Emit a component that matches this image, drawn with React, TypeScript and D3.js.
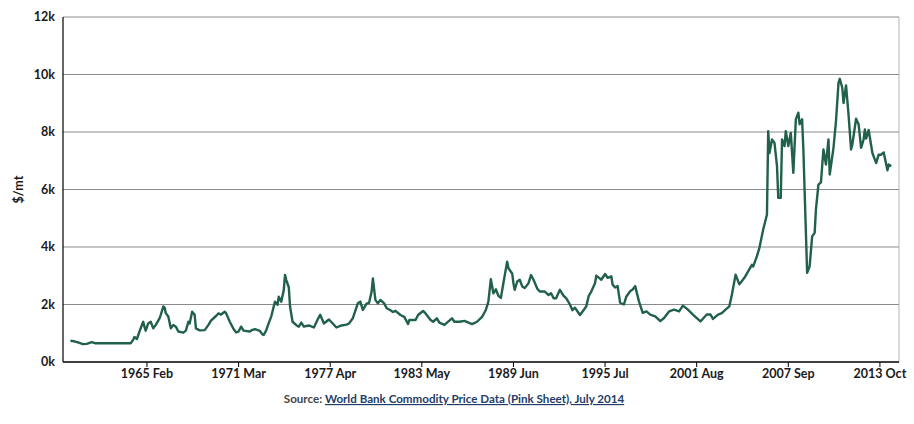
import { useEffect } from 'react'
import * as d3 from 'd3'

// monthly copper price, $/mt
const obsMonths = [
  '1960-01', '1960-04', '1960-07', '1960-11', '1961-02', '1961-06', '1961-09', '1962-01', '1964-01', '1964-03',
  '1964-04', '1964-06', '1964-08', '1964-11', '1964-12', '1965-01', '1965-03', '1965-05', '1965-07', '1965-09',
  '1965-12', '1966-01', '1966-03', '1966-04', '1966-05', '1966-07', '1966-09', '1966-11', '1967-01', '1967-03',
  '1967-07', '1967-09', '1967-11', '1967-12', '1968-02', '1968-04', '1968-05', '1968-08', '1968-12', '1969-03',
  '1969-05', '1969-09', '1969-11', '1970-01', '1970-04', '1970-05', '1970-08', '1970-11', '1971-01', '1971-03',
  '1971-05', '1971-07', '1971-12', '1972-02', '1972-04', '1972-08', '1972-10', '1972-11', '1973-01', '1973-03',
  '1973-05', '1973-08', '1973-10', '1973-11', '1974-01', '1974-03', '1974-04', '1974-05', '1974-07', '1974-08',
  '1974-10', '1975-01', '1975-03', '1975-05', '1975-07', '1975-11', '1976-03', '1976-06', '1976-08', '1976-11',
  '1977-03', '1977-09', '1978-01', '1978-05', '1978-07', '1978-10', '1979-02', '1979-04', '1979-06', '1979-09',
  '1979-11', '1980-01', '1980-02', '1980-04', '1980-06', '1980-08', '1980-11', '1981-01', '1981-04', '1981-06',
  '1981-08', '1981-12', '1982-03', '1982-06', '1982-07', '1982-12', '1983-02', '1983-06', '1983-08', '1983-12',
  '1984-02', '1984-05', '1984-07', '1984-11', '1985-05', '1985-07', '1985-11', '1986-03', '1986-09', '1987-01',
  '1987-05', '1987-08', '1987-10', '1987-12', '1988-02', '1988-04', '1988-06', '1988-08', '1988-10', '1989-01',
  '1989-02', '1989-03', '1989-05', '1989-06', '1989-07', '1989-09', '1989-11', '1990-01', '1990-03', '1990-06',
  '1990-08', '1990-10', '1991-01', '1991-03', '1991-07', '1991-10', '1991-12', '1992-02', '1992-04', '1992-07',
  '1992-10', '1992-12', '1993-03', '1993-05', '1993-07', '1993-11', '1994-02', '1994-04', '1994-06', '1994-08',
  '1994-11', '1994-12', '1995-03', '1995-04', '1995-07', '1995-09', '1995-12', '1996-01', '1996-03', '1996-05',
  '1996-07', '1996-10', '1996-12', '1997-03', '1997-05', '1997-07', '1997-10', '1998-01', '1998-04', '1998-07',
  '1998-11', '1999-03', '1999-06', '1999-10', '2000-02', '2000-06', '2000-09', '2001-01', '2001-05', '2001-11',
  '2002-04', '2002-07', '2002-09', '2003-01', '2003-04', '2003-07', '2003-10', '2003-12', '2004-03', '2004-06',
  '2004-10', '2005-01', '2005-04', '2005-05', '2005-08', '2005-10', '2006-01', '2006-04', '2006-05', '2006-06',
  '2006-08', '2006-10', '2006-12', '2007-01', '2007-03', '2007-04', '2007-06', '2007-07', '2007-09', '2007-11',
  '2008-01', '2008-03', '2008-05', '2008-06', '2008-08', '2008-09', '2008-12', '2009-02', '2009-04', '2009-06',
  '2009-07', '2009-09', '2009-11', '2010-01', '2010-03', '2010-05', '2010-06', '2010-09', '2010-11', '2011-01',
  '2011-02', '2011-04', '2011-05', '2011-07', '2011-09', '2011-11', '2011-12', '2012-03', '2012-05', '2012-07',
  '2012-09', '2012-10', '2012-11', '2013-01', '2013-04', '2013-07', '2013-09', '2013-11', '2014-01', '2014-04',
  '2014-05', '2014-07'
]

const copperPrices = [
  740, 720, 680, 620, 630, 690, 650, 650, 650, 770,
  870, 800, 1060, 1400, 1230, 1090, 1340, 1400, 1170, 1290,
  1520, 1640, 1930, 1900, 1700, 1580, 1170, 1290, 1230, 1060,
  1020, 1090, 1400, 1340, 1750, 1640, 1170, 1100, 1110, 1290,
  1440, 1600, 1690, 1650, 1750, 1700, 1400, 1150, 1030, 1060,
  1230, 1090, 1060, 1120, 1140, 1080, 960, 940, 1100, 1350,
  1580, 2100, 1990, 2270, 2100, 2500, 3030, 2850, 2600, 1930,
  1400, 1280, 1230, 1370, 1230, 1270, 1200, 1480, 1640, 1340,
  1480, 1200, 1270, 1300, 1340, 1520, 2040, 2100, 1810, 2030,
  2060, 2450, 2910, 2160, 2040, 2160, 2040, 1870, 1800, 1740,
  1780, 1635, 1570, 1320, 1460, 1460, 1635, 1775, 1690, 1460,
  1400, 1520, 1370, 1290, 1520, 1400, 1400, 1430, 1320, 1400,
  1570, 1810, 2090, 2880, 2390, 2530, 2300, 2230, 2750, 3490,
  3260, 3200, 3080, 2740, 2510, 2800, 2860, 2630, 2570, 2740,
  3025, 2860, 2550, 2450, 2450, 2330, 2390, 2220, 2220, 2510,
  2300, 2220, 2000, 1800, 1890, 1635, 1810, 1930, 2300, 2450,
  2740, 3000, 2900, 2860, 3060, 2930, 2980, 2690, 2590, 2640,
  2060, 2000, 2280, 2460, 2520, 2640, 2110, 1710, 1760, 1650,
  1590, 1420, 1530, 1760, 1820, 1760, 1960, 1820, 1650, 1410,
  1650, 1650, 1500, 1650, 1700, 1820, 1935, 2330, 3040, 2700,
  2930, 3150, 3380, 3320, 3680, 3970, 4610, 5130, 8030, 7270,
  7740, 7620, 6810, 5710, 5710, 7740, 7510, 8030, 7510, 7970,
  6580, 8440, 8670, 8270, 8440, 7390, 3100, 3330, 4370, 4490,
  5300, 6170, 6250, 7390, 6870, 7740, 6520, 7450, 8380, 9710,
  9850, 9540, 9010, 9620, 8600, 7390, 7560, 8460, 8270, 7450,
  7740, 8090, 7770, 8070, 7270, 6920, 7210, 7210, 7290, 6670,
  6870, 6810
]

const yTickValues = [0, 2000, 4000, 6000, 8000, 10000, 12000]
const xTickLabels = ['1965 Feb', '1971 Mar', '1977 Apr', '1983 May', '1989 Jun', '1995 Jul', '2001 Aug', '2007 Sep', '2013 Oct']

const monthNames = ['Jan', 'Feb', 'Mar', 'Apr', 'May', 'Jun', 'Jul', 'Aug', 'Sep', 'Oct', 'Nov', 'Dec']

// months since Jan 1960
const isoIndex = (s: string) => {
  const [y, m] = s.split('-').map(Number)
  return (y - 1960) * 12 + (m - 1)
}
const labelIndex = (s: string) => {
  const [y, mon] = s.split(' ')
  return (Number(y) - 1960) * 12 + monthNames.indexOf(mon)
}

const width = 914
const height = 424
const margin = { top: 17, right: 15, bottom: 62, left: 63 }
const lineColor = '#21604a'
const font = 'Lato, "Open Sans", sans-serif'

export default function App() {
  useEffect(() => {
    document.body.style.margin = '0'
  }, [])

  const data = obsMonths.map((m, i) => ({ idx: isoIndex(m), value: copperPrices[i] }))

  const x = d3.scaleLinear()
    .domain([-5.9, 660.2])
    .range([margin.left, width - margin.right])

  const y = d3.scaleLinear()
    .domain([0, 12000])
    .range([height - margin.bottom, margin.top])

  const line = d3.line<{ idx: number; value: number }>()
    .x(d => x(d.idx))
    .y(d => y(d.value))
    .curve(d3.curveLinear)

  const x0 = margin.left
  const x1 = width - margin.right
  const yBottom = height - margin.bottom

  return (
    <svg width={width} height={height} style={{ display: 'block', background: '#fff' }} fontFamily={font}>
      {/* grid */}
      {yTickValues.filter(v => v > 0).map(v => (
        <line key={v} x1={x0} x2={x1} y1={y(v)} y2={y(v)} stroke="#8a8a8a" strokeWidth={1} />
      ))}
      <line x1={x1} x2={x1} y1={margin.top} y2={yBottom} stroke="#b5b5b5" strokeWidth={1} />

      {/* y axis */}
      <line x1={x0} x2={x0} y1={margin.top} y2={yBottom} stroke="#000" strokeWidth={1.2} />
      {yTickValues.map(v => (
        <text key={v} x={x0 - 8} y={y(v)} dy="0.35em" textAnchor="end" fontSize={12.5} fontWeight={700} fill="#1a1a1a">
          {v / 1000}k
        </text>
      ))}
      <text
        transform={`translate(23,${(margin.top + yBottom) / 2}) rotate(-90)`}
        textAnchor="middle" fontSize={12.5} fontWeight={700} fill="#1a1a1a"
      >
        $/mt
      </text>

      {/* x axis */}
      <line x1={x0} x2={x1} y1={yBottom} y2={yBottom} stroke="#000" strokeWidth={1.4} />
      {xTickLabels.map(l => {
        const xp = x(labelIndex(l))
        return (
          <g key={l}>
            <line x1={xp} x2={xp} y1={yBottom} y2={yBottom + 5} stroke="#000" strokeWidth={1} />
            <text x={xp} y={yBottom + 16} textAnchor="middle" fontSize={12.5} fontWeight={700} fill="#1a1a1a">
              {l}
            </text>
          </g>
        )
      })}

      {/* series */}
      <path d={line(data) || ''} fill="none" stroke={lineColor} strokeWidth={2.4} strokeLinejoin="round" />

      {/* source */}
      <text x={454} y={403} textAnchor="middle" fontSize={11.6} fontWeight={700}>
        <tspan fill="#444">Source: </tspan>
        <tspan fill="#1f3d66" textDecoration="underline">World Bank Commodity Price Data (Pink Sheet), July 2014</tspan>
      </text>
    </svg>
  )
}
